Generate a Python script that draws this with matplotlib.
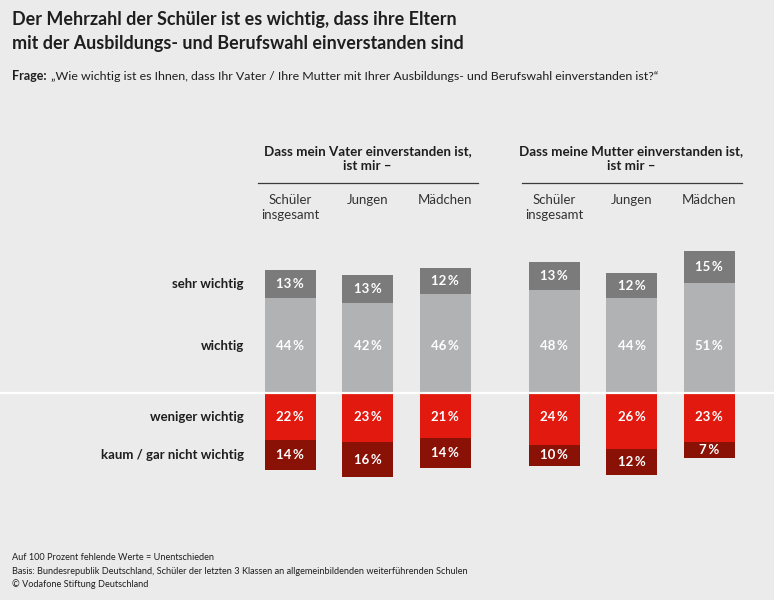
import numpy as np
import matplotlib.pyplot as plt

# Daten
gruppen = ['Dass mein Vater einverstanden ist,\nist mir –',
           'Dass meine Mutter einverstanden ist,\nist mir –']
spalten = ['Schüler\ninsgesamt', 'Jungen', 'Mädchen']
kategorien = ['sehr wichtig', 'wichtig', 'weniger wichtig', 'kaum / gar nicht wichtig']

# je Gruppe: Schüler insgesamt, Jungen, Mädchen
sehr_wichtig = [[13, 13, 12], [13, 12, 15]]
wichtig = [[44, 42, 46], [48, 44, 51]]
weniger_wichtig = [[22, 23, 21], [24, 26, 23]]
kaum_wichtig = [[14, 16, 14], [10, 12, 7]]

c_sehr = '#7b7b7b'
c_wichtig = '#b1b2b3'
c_weniger = '#e2190f'
c_kaum = '#8a1106'
bg = '#ebebeb'
txt = '#1e1e1e'

W, H = 774, 600
plt.rcParams['font.family'] = ['Lato', 'DejaVu Sans']
fig = plt.figure(figsize=(W / 100, H / 100), dpi=100, facecolor=bg)
ax = fig.add_axes([0, 0, 1, 1])
ax.set_facecolor(bg)

null_px = 393   # Pixelzeile der Nulllinie
skala = 2.15    # Pixel pro Prozentpunkt
ax.set_xlim(0, W)
ax.set_ylim(-(H - null_px) / skala, null_px / skala)
ax.axis('off')


def fy(p):
    return 1 - p / H


def fx(p):
    return p / W


# Zeilenhöhen aus dem ersten Balken
s0, w0 = sehr_wichtig[0][0], wichtig[0][0]
n0, k0 = weniger_wichtig[0][0], kaum_wichtig[0][0]
zeilen_y = [w0 + s0 / 2, w0 / 2, -n0 / 2, -n0 - k0 / 2]

breite = 51
for g in range(2):
    xs = np.array([290 + j * 77.5 + g * 264 for j in range(3)])
    sw = np.array(sehr_wichtig[g])
    w = np.array(wichtig[g])
    ww = np.array(weniger_wichtig[g])
    kw = np.array(kaum_wichtig[g])
    ax.bar(xs, w, breite, color=c_wichtig, zorder=2)
    ax.bar(xs, sw, breite, bottom=w, color=c_sehr, zorder=2)
    ax.bar(xs, -ww, breite, color=c_weniger, zorder=2)
    ax.bar(xs, -kw, breite, bottom=-ww, color=c_kaum, zorder=2)
    for x, a, b, c, d in zip(xs, sw, w, ww, kw):
        for val, mid in [(a, b + a / 2), (b, zeilen_y[1]), (c, zeilen_y[2]), (d, -c - d / 2)]:
            ax.text(x, mid, f'{val}\u2009%', color='white', fontsize=9.5,
                    fontweight='bold', ha='center', va='center', zorder=3,
                    family=['Lato', 'DejaVu Sans'])
    # Gruppenkopf
    mitte = xs.mean()
    fig.text(fx(mitte), fy(159), gruppen[g], ha='center', va='center',
             fontsize=9.6, fontweight='bold', color=txt, linespacing=1.3)
    ax.plot([mitte - 110, mitte + 110], [(null_px - 183) / skala] * 2,
            color='#3a3a3a', lw=0.9, zorder=1)
    for x, s in zip(xs, spalten):
        fig.text(fx(x), fy(194), s, ha='center', va='top', fontsize=9.5,
                 color='#333333', linespacing=1.35)

for lab, mid in zip(kategorien, zeilen_y):
    ax.text(244, mid, lab, ha='right', va='center', fontsize=9.5,
            fontweight='bold', color=txt)

ax.axhline(0, color='white', lw=1.6, zorder=4)

fig.text(fx(12), fy(20), 'Der Mehrzahl der Schüler ist es wichtig, dass ihre Eltern',
         fontsize=12.9, fontweight='bold', color=txt, va='center')
fig.text(fx(12), fy(44), 'mit der Ausbildungs- und Berufswahl einverstanden sind',
         fontsize=12.9, fontweight='bold', color=txt, va='center')
fig.text(fx(12), fy(76), 'Frage:', fontsize=9, fontweight='bold', color=txt, va='center')
fig.text(fx(51), fy(76), '„Wie wichtig ist es Ihnen, dass Ihr Vater / Ihre Mutter mit Ihrer '
         'Ausbildungs- und Berufswahl einverstanden ist?“',
         fontsize=8.9, color=txt, va='center')

fuss = ['Auf 100 Prozent fehlende Werte = Unentschieden',
        'Basis: Bundesrepublik Deutschland, Schüler der letzten 3 Klassen an '
        'allgemeinbildenden weiterführenden Schulen',
        '© Vodafone Stiftung Deutschland']
for i, z in enumerate(fuss):
    fig.text(fx(12), fy(558 + i * 13), z, fontsize=6.6, color=txt, va='center')

fig.savefig('out.png', dpi=100, facecolor=bg)
